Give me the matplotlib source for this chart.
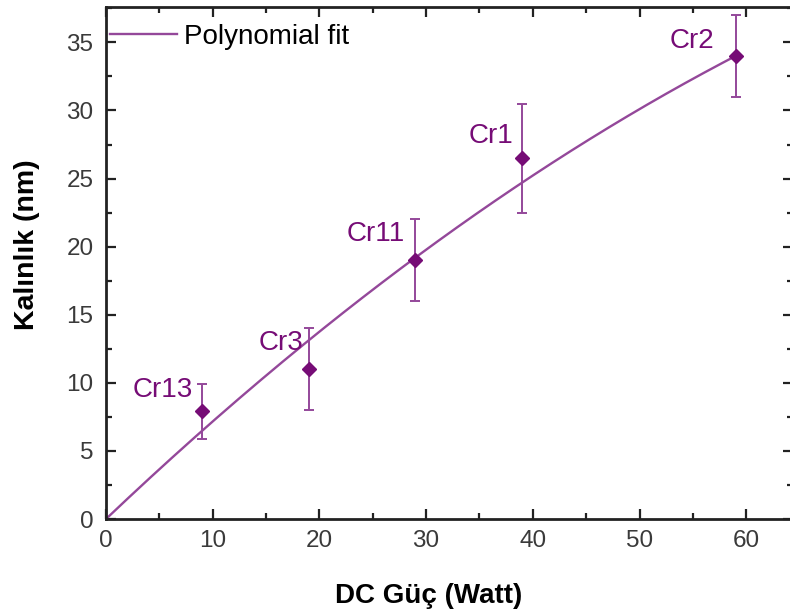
import numpy as np
import matplotlib.pyplot as plt
from matplotlib.ticker import MultipleLocator

plt.rcParams['font.family'] = ['Liberation Sans', 'DejaVu Sans']

# Samples: DC power (W), thickness (nm), error
samples = ["Cr13", "Cr3", "Cr11", "Cr1", "Cr2"]
power = [9, 19, 29, 39, 59]
thickness = [7.9, 11.0, 19.0, 26.5, 34.0]
error = [2.0, 3.0, 3.0, 4.0, 3.0]

# Polynomial fit coefficients (highest order first)
fit_coeffs = [-0.00286, 0.745, 0.0]
fit_range = (0, 59)

label_offsets = [(-3.7, 1.6), (-2.6, 1.9), (-3.7, 1.9), (-2.9, 1.6), (-4.1, 1.1)]

purple = "#760c76"
line_purple = "#94489a"

fig = plt.figure(figsize=(7.9, 6.13), dpi=100)
ax = fig.add_axes([106 / 790, (613 - 519) / 613, (790 - 106) / 790 + 0.004, (519 - 7) / 613])

xf = np.linspace(fit_range[0], fit_range[1], 200)
ax.plot(xf, np.polyval(fit_coeffs, xf), color=line_purple, lw=1.7, label="Polynomial fit")
ax.errorbar(power, thickness, yerr=error, fmt='D', color=purple, ms=7.5,
            ecolor=line_purple, elinewidth=1.4, capsize=3.8, capthick=1.4)

for name, x, y, (dx, dy) in zip(samples, power, thickness, label_offsets):
    ax.text(x + dx, y + dy, name, color=purple, fontsize=20, ha='center', va='center')

ax.set_xlim(0, 64.4)
ax.set_ylim(0, 37.6)
ax.xaxis.set_major_locator(MultipleLocator(10))
ax.xaxis.set_minor_locator(MultipleLocator(5))
ax.yaxis.set_major_locator(MultipleLocator(5))
ax.yaxis.set_minor_locator(MultipleLocator(2.5))
ax.tick_params(which='both', direction='in', top=True, right=True, width=1.6, colors='#222222',
               labelcolor='#3a3a3a', labelsize=17.5)
ax.tick_params(axis='x', which='both', pad=8)
ax.tick_params(axis='y', which='both', pad=9)
ax.tick_params(which='major', length=7)
ax.tick_params(which='minor', length=4)
for sp in ax.spines.values():
    sp.set_linewidth(2.0)
    sp.set_color('#222222')

ax.set_xlabel("DC Güç (Watt)", fontsize=20, fontweight='bold', labelpad=22)
ax.set_ylabel("Kalınlık (nm)", fontsize=20.5, fontweight='bold', labelpad=19)
ax.xaxis.label.set_x(0.47)
ax.yaxis.label.set_y(0.535)

leg = ax.legend(loc='upper left', bbox_to_anchor=(0.0, 1.0 - 13 / 512), frameon=False,
                fontsize=20, handlelength=2.4, borderaxespad=0.0, borderpad=0.15,
                handletextpad=0.25)

fig.savefig("out.png", dpi=100)
